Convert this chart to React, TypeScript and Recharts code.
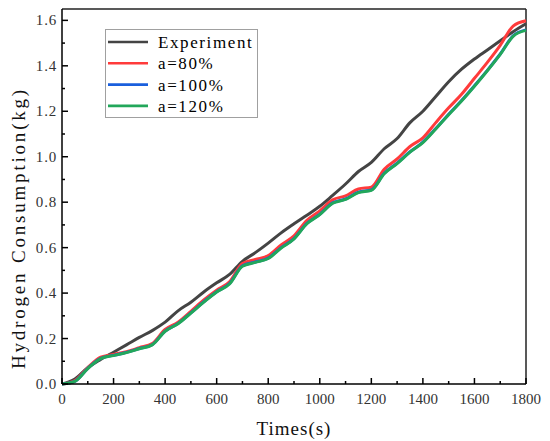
import React from 'react'
import { LineChart, Line, XAxis, YAxis, ReferenceLine, Legend } from 'recharts'

const times = [
  0, 50, 100, 150, 200, 250, 300, 350, 400, 450, 500, 550, 600, 650, 700, 750, 800, 850, 900,
  950, 1000, 1050, 1100, 1150, 1200, 1250, 1300, 1350, 1400, 1450, 1500, 1550, 1600, 1650, 1700,
  1750, 1800,
]

const experiment = [
  0, 0.022, 0.072, 0.108, 0.14, 0.172, 0.205, 0.235, 0.272, 0.322, 0.36, 0.405, 0.445, 0.482,
  0.54, 0.578, 0.62, 0.665, 0.705, 0.743, 0.782, 0.83, 0.88, 0.935, 0.975, 1.035, 1.08, 1.15,
  1.2, 1.265, 1.33, 1.385, 1.43, 1.47, 1.51, 1.55, 1.585,
]

const a80 = [
  0, 0.015, 0.072, 0.118, 0.13, 0.142, 0.16, 0.178, 0.24, 0.272, 0.32, 0.37, 0.413, 0.45, 0.53,
  0.548, 0.565, 0.612, 0.652, 0.72, 0.762, 0.81, 0.828, 0.858, 0.866, 0.945, 0.99, 1.045, 1.083,
  1.15, 1.215, 1.275, 1.345, 1.415, 1.49, 1.575, 1.598,
]

const a100 = [
  0, 0.012, 0.069, 0.113, 0.126, 0.139, 0.156, 0.173, 0.233, 0.266, 0.313, 0.362, 0.406, 0.442,
  0.52, 0.537, 0.554, 0.6, 0.64, 0.707, 0.747, 0.797, 0.814, 0.844, 0.854, 0.927, 0.972, 1.022,
  1.064, 1.124, 1.187, 1.247, 1.312, 1.38, 1.452, 1.532, 1.558,
]

const a120 = [
  0, 0.012, 0.068, 0.112, 0.125, 0.138, 0.155, 0.172, 0.232, 0.265, 0.312, 0.36, 0.405, 0.44,
  0.518, 0.535, 0.552, 0.598, 0.638, 0.705, 0.745, 0.795, 0.812, 0.842, 0.852, 0.925, 0.97, 1.02,
  1.062, 1.122, 1.185, 1.245, 1.31, 1.378, 1.45, 1.53, 1.556,
]

const seriesNames = ['Experiment', 'a=80%', 'a=100%', 'a=120%']

const xTicks = [
  0, 100, 200, 300, 400, 500, 600, 700, 800, 900, 1000, 1100, 1200, 1300, 1400, 1500, 1600, 1700,
  1800,
]
const yTicks = [
  0, 0.1, 0.2, 0.3, 0.4, 0.5, 0.6, 0.7, 0.8, 0.9, 1.0, 1.1, 1.2, 1.3, 1.4, 1.5, 1.6,
]

const data = times.map((t, i) => ({
  t,
  exp: experiment[i],
  a80: a80[i],
  a100: a100[i],
  a120: a120[i],
}))

const FONT = "'Liberation Serif', 'DejaVu Serif', serif"

function XTick({ x, y, payload }: any) {
  const major = payload.value % 200 === 0
  return (
    <g>
      <line x1={x} x2={x} y1={y} y2={y - (major ? 6 : 3)} stroke="#000" strokeWidth={1.5} />
      {major && (
        <text
          x={x}
          y={y + 20}
          textAnchor="middle"
          style={{ fontFamily: FONT, fontSize: 15 }}
          fill="#333"
        >
          {payload.value}
        </text>
      )}
    </g>
  )
}

function YTick({ x, y, payload }: any) {
  const major = Math.round(payload.value * 10) % 2 === 0
  return (
    <g>
      <line x1={x} x2={x + (major ? 6 : 3)} y1={y} y2={y} stroke="#000" strokeWidth={1.5} />
      {major && (
        <text
          x={x - 5}
          y={y + 5}
          textAnchor="end"
          style={{ fontFamily: FONT, fontSize: 15, letterSpacing: 0.8 }}
          fill="#333"
        >
          {payload.value.toFixed(1)}
        </text>
      )}
    </g>
  )
}

function LegendBox({ payload }: any) {
  const items = [...(payload || [])].sort(
    (a: any, b: any) => seriesNames.indexOf(a.value) - seriesNames.indexOf(b.value)
  )
  return (
    <svg width={153} height={89} style={{ display: 'block' }}>
      <rect x={0.5} y={0.5} width={152} height={88} fill="#fff" stroke="#a0a0a0" />
      {items.map((p: any, i: number) => {
        const cy = 13 + i * 21.3
        return (
          <g key={p.value}>
            <line x1={3} x2={43} y1={cy} y2={cy} stroke={p.color} strokeWidth={2.6} />
            <text
              x={53}
              y={cy + 6}
              style={{ fontFamily: FONT, fontSize: 17, letterSpacing: 1.6 }}
              fill="#000"
            >
              {p.value}
            </text>
          </g>
        )
      })}
    </svg>
  )
}

function YLabel() {
  return (
    <text
      x={25}
      y={228}
      transform="rotate(-90 25 228)"
      textAnchor="middle"
      style={{ fontFamily: FONT, fontSize: 19, letterSpacing: 2.8 }}
      fill="#111"
    >
      Hydrogen Consumption(kg)
    </text>
  )
}

export default function App() {
  return (
    <div style={{ position: 'absolute', left: 0, top: 0, background: '#fff' }}>
      <LineChart
        width={550}
        height={441}
        data={data}
        margin={{ top: 9, right: 24, left: 0, bottom: 0 }}
      >
        <XAxis
          dataKey="t"
          type="number"
          domain={[0, 1800]}
          ticks={xTicks}
          interval={0}
          tickSize={0}
          tickMargin={0}
          tickLine={false}
          tick={<XTick />}
          axisLine={{ stroke: '#000', strokeWidth: 1.5 }}
          height={57}
          label={{
            value: 'Times(s)',
            position: 'insideBottom',
            offset: 6,
            style: { fontFamily: FONT, fontSize: 19, letterSpacing: 1 },
            fill: '#111',
          }}
        />
        <YAxis
          type="number"
          domain={[0, 1.65]}
          ticks={yTicks}
          interval={0}
          tickSize={0}
          tickMargin={0}
          tickLine={false}
          tick={<YTick />}
          axisLine={{ stroke: '#000', strokeWidth: 1.5 }}
          width={62}
          label={<YLabel />}
        />
        <ReferenceLine y={1.65} stroke="#222" strokeWidth={1.5} />
        <ReferenceLine x={1800} stroke="#222" strokeWidth={1.5} />
        <Line
          name="Experiment"
          dataKey="exp"
          type="monotone"
          stroke="#444444"
          strokeWidth={3}
          dot={false}
          isAnimationActive={false}
        />
        <Line
          name="a=80%"
          dataKey="a80"
          type="monotone"
          stroke="#ff3b3b"
          strokeWidth={3}
          dot={false}
          isAnimationActive={false}
        />
        <Line
          name="a=100%"
          dataKey="a100"
          type="monotone"
          stroke="#1a5fdd"
          strokeWidth={3}
          dot={false}
          isAnimationActive={false}
        />
        <Line
          name="a=120%"
          dataKey="a120"
          type="monotone"
          stroke="#22a75a"
          strokeWidth={3}
          dot={false}
          isAnimationActive={false}
        />
        <Legend
          layout="vertical"
          align="center"
          verticalAlign="middle"
          content={<LegendBox />}
          wrapperStyle={{ position: 'absolute', left: 105, top: 29, width: 153, height: 89 }}
        />
      </LineChart>
    </div>
  )
}
